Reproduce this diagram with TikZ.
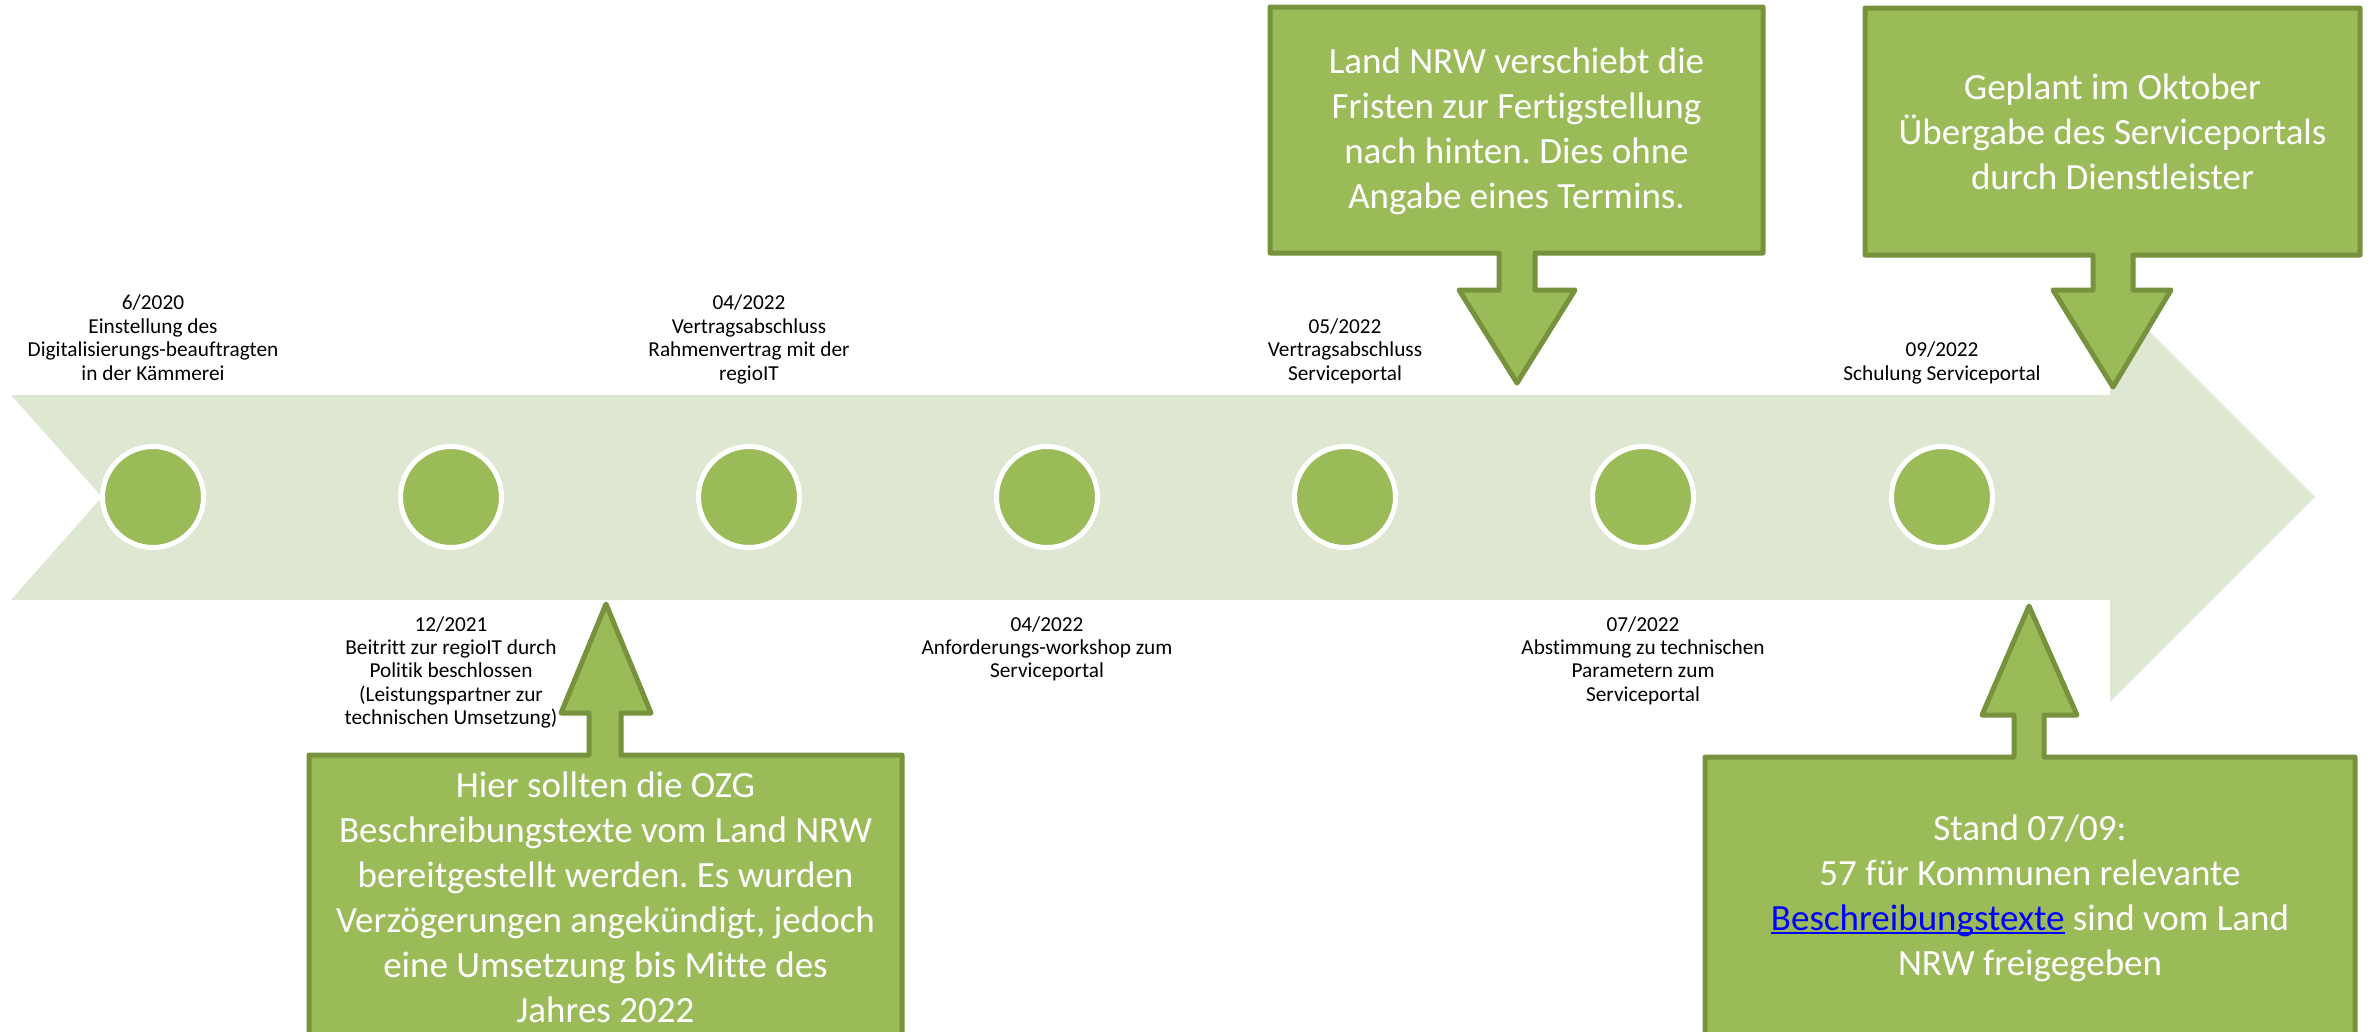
\documentclass[tikz,border=0pt]{standalone}
\usepackage{fontspec}
\setmainfont{Carlito}[Ligatures={NoCommon}]
\usepackage{tikz}
\frenchspacing
\definecolor{pfeilhell}{HTML}{DEE7D1}
\definecolor{olivgruen}{HTML}{9BBB59}
\definecolor{olivdunkel}{HTML}{76923C}
\definecolor{linkblau}{HTML}{0000FF}
\newcommand{\linkwort}[1]{\setbox0\hbox{#1}\rlap{\rule[-0.11em]{\wd0}{0.06em}}\box0}
\tikzset{
  punkt/.style={circle, fill=olivgruen, draw=white, line width=5pt, minimum size=101pt, inner sep=0pt},
  datum/.style={align=center, inner sep=0pt, text=black, font=\fontsize{21.3}{23.4}\selectfont},
  sprechblase/.style={fill=olivgruen, draw=olivdunkel, line width=5pt, line join=round},
  hinweis/.style={align=center, inner sep=0pt, text=white, font=\fontsize{37}{45}\selectfont}
}

\begin{document}
\begin{tikzpicture}[x=1pt, y=-1pt]
  \useasboundingbox (0,0) rectangle (2371,1031);
  \clip (0,0) rectangle (2371,1031);
  % Zeitstrahl
  \fill[pfeilhell] (11,395) -- (2110,395) -- (2110,292) -- (2315,497) -- (2110,702) -- (2110,600) -- (11,600) -- (102,497) -- cycle;

  \node[punkt] (m1) at (153,497) {};
  \node[punkt] (m2) at (451,497) {};
  \node[punkt] (m3) at (749,497) {};
  \node[punkt] (m4) at (1047,497) {};
  \node[punkt] (m5) at (1345,497) {};
  \node[punkt] (m6) at (1643,497) {};
  \node[punkt] (m7) at (1942,497) {};

  % Termine oben
  \node[datum, anchor=north] (d1) at (153,295) {6/2020\\Einstellung des\\Digitalisierungs-beauftragten\\in der Kämmerei};
  \node[datum, anchor=north] (d3) at (749,295) {04/2022\\Vertragsabschluss\\Rahmenvertrag mit der\\regioIT};
  \node[datum, anchor=north] (d5) at (1345,318.5) {05/2022\\Vertragsabschluss\\Serviceportal};
  \node[datum, anchor=north] (d7) at (1942,342) {09/2022\\Schulung Serviceportal};
  % Termine unten
  \node[datum, anchor=north] (d2) at (451,616) {12/2021\\Beitritt zur regioIT durch\\Politik beschlossen\\(Leistungspartner zur\\technischen Umsetzung)};
  \node[datum, anchor=north] (d4) at (1047,616) {04/2022\\Anforderungs-workshop zum\\Serviceportal};
  \node[datum, anchor=north] (d6) at (1643,616) {07/2022\\Abstimmung zu technischen\\Parametern zum\\Serviceportal};

  % Hinweise
  \draw[sprechblase] (309,755) -- (589,755) -- (589,713) -- (561,713) -- (606,604) -- (651,713) -- (621,713) -- (621,755) -- (902,755) -- (902,1040) -- (309,1040) -- cycle;
  \node[hinweis] (h1) at (605.5,897) {Hier sollten die OZG\\Beschreibungstexte vom Land NRW\\bereitgestellt werden. Es wurden\\Verzögerungen angekündigt, jedoch\\eine Umsetzung bis Mitte des\\Jahres 2022};

  \draw[sprechblase] (1270,7) -- (1763,7) -- (1763,253) -- (1535,253) -- (1535,290) -- (1575,290) -- (1517,383) -- (1459,290) -- (1499,290) -- (1499,253) -- (1270,253) -- cycle;
  \node[hinweis] (h2) at (1516.5,131) {Land NRW verschiebt die\\Fristen zur Fertigstellung\\nach hinten. Dies ohne\\Angabe eines Termins.};

  \draw[sprechblase] (1865,8) -- (2360,8) -- (2360,255) -- (2133,255) -- (2133,290) -- (2171,290) -- (2113,387) -- (2053,290) -- (2093,290) -- (2093,255) -- (1865,255) -- cycle;
  \node[hinweis] (h3) at (2112.5,132) {Geplant im Oktober\\Übergabe des Serviceportals\\durch Dienstleister};

  \draw[sprechblase] (1705,757) -- (2014,757) -- (2014,715) -- (1982,715) -- (2029,606) -- (2077,715) -- (2044,715) -- (2044,757) -- (2355,757) -- (2355,1040) -- (1705,1040) -- cycle;
  \node[hinweis] (h4) at (2030,898) {Stand 07/09:\\57 für Kommunen relevante\\{\color{linkblau}\linkwort{Beschreibungstexte}} sind vom Land\\NRW freigegeben};
\end{tikzpicture}
\end{document}
